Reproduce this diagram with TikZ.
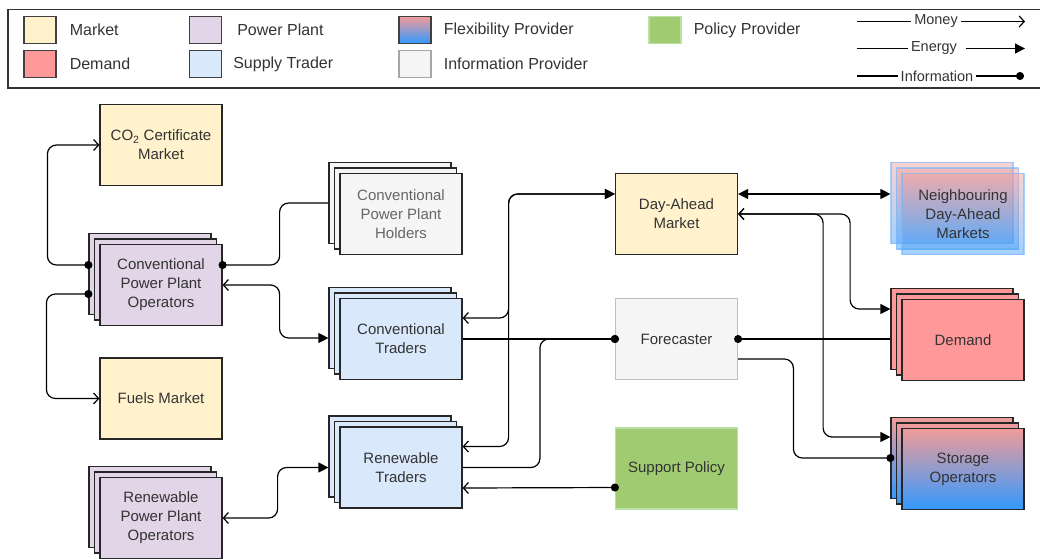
\documentclass[tikz,border=0pt]{standalone}
\usepackage{fontspec}
\setmainfont{Liberation Sans}
\usepackage{tikz}
\usetikzlibrary{positioning,calc,arrows.meta}
\definecolor{mkt}{HTML}{FFF2CC}
\definecolor{dem}{HTML}{FF9999}
\definecolor{pp}{HTML}{E1D5E7}
\definecolor{trd}{HTML}{DAE8FC}
\definecolor{flextop}{HTML}{F19C99}
\definecolor{flexbot}{HTML}{3399FF}
\definecolor{inf}{HTML}{F5F5F5}
\definecolor{pol}{HTML}{A0CB70}
\definecolor{polline}{HTML}{B9E0A5}
\definecolor{txt}{HTML}{333333}
\newcommand{\agentstack}[5]{
	\node[box, #4] (#1_b) at ($(#2,#3)+(-11,-11)$) {};
	\node[box, #4] (#1_m) at ($(#2,#3)+(-5.5,-5.5)$) {};
	\node[box, #4] (#1) at (#2,#3) {#5};
}

\begin{document}
\begin{tikzpicture}[x=1pt,y=-1pt,
		moneytip/.tip={Straight Barb[length=5pt,width=11pt,line width=1.2pt]},
		energytip/.tip={Triangle[length=10pt,width=10pt]},
		infotip/.tip={Circle[length=8pt]}]
		\tikzstyle{box}=[draw=black!85, line width=1.2pt, minimum width=122pt, minimum height=81pt, inner sep=0pt, align=center, text=txt, font=\fontsize{15}{19}\selectfont];
		\tikzstyle{market}=[fill=mkt];
		\tikzstyle{demand}=[fill=dem];
		\tikzstyle{plant}=[fill=pp];
		\tikzstyle{trader}=[fill=trd];
		\tikzstyle{flex}=[top color=flextop, bottom color=flexbot];
		\tikzstyle{infobox}=[fill=inf];
		\tikzstyle{policy}=[fill=pol, draw=polline];
		\tikzstyle{legsw}=[draw=black!75, line width=1.2pt, minimum width=32pt, minimum height=27pt, inner sep=0pt];
		\tikzstyle{legtext}=[inner sep=0pt, text=txt, font=\fontsize{16}{19}\selectfont];
		\tikzstyle{leglabel}=[inner sep=3pt, text=txt, font=\fontsize{14.5}{17}\selectfont];
		\tikzstyle{link}=[line width=1.2pt, rounded corners=9pt];
		
		\useasboundingbox (0,0) rectangle (1040,558);
		
		% legend
		\draw[line width=1.4pt, draw=black!80] (8,9.5) rectangle (1045,88);
		\node[legsw, market] (l_mkt) at (40,30) {};
		\node[legsw, demand] (l_dem) at (40,64) {};
		\node[legsw, plant] (l_pp) at (205.5,30) {};
		\node[legsw, trader] (l_trd) at (205.5,64) {};
		\node[legsw, flex] (l_flex) at (415,30) {};
		\node[legsw, infobox, draw=black!35] (l_inf) at (415,64) {};
		\node[legsw, policy] (l_pol) at (665,30) {};
		\node[legtext, right=13pt of l_mkt] {Market};
		\node[legtext, right=13pt of l_dem] {Demand};
		\node[legtext, right=15pt of l_pp] {Power Plant};
		\node[legtext, right=11pt of l_trd] {Supply Trader};
		\node[legtext, right=12pt of l_flex] {Flexibility Provider};
		\node[legtext, right=12pt of l_inf] {Information Provider};
		\node[legtext, right=12pt of l_pol] {Policy Provider};
		
		\node[leglabel] (l_money) at (936,21.5) {Money};
		\node[leglabel] (l_energy) at (934,48.5) {Energy};
		\node[leglabel] (l_info) at (937,76) {Information};
		\coordinate (lm_a) at (857,21.5);
		\coordinate (lm_b) at (1025,21.5);
		\coordinate (le_a) at (857,48.5);
		\coordinate (le_b) at (1025,48.5);
		\coordinate (li_a) at (857,76);
		\coordinate (li_b) at (1024,76);
		\draw[link] (lm_a) -- (l_money.west);
		\draw[link, -{moneytip}] (l_money.east) -- (lm_b);
		\draw[link] (le_a) -- (l_energy.west);
		\draw[link, -{energytip}] ($(l_energy.east)+(6,0)$) -- (le_b);
		\draw[link] (li_a) -- (l_info.west);
		\draw[link, -{infotip}] (l_info.east) -- (li_b);
		
		% agents
		\node[box, market] (co2) at (161,145) {CO\textsubscript{2} Certificate\\Market};
		\node[box, market] (fuel) at (161,398.5) {Fuels Market};
		\agentstack{cppo}{161}{285}{plant}{Conventional\\Power Plant\\Operators}
		\agentstack{rppo}{161}{518}{plant}{Renewable\\Power Plant\\Operators}
		\agentstack{cpph}{401}{214}{infobox, text=black!60}{Conventional\\Power Plant\\Holders}
		\agentstack{ct}{401}{339}{trader}{Conventional\\Traders}
		\agentstack{rt}{401}{467.5}{trader}{Renewable\\Traders}
		\node[box, market] (dam) at (676.5,214) {Day-Ahead\\Market};
		\node[box, infobox, draw=black!25] (fc) at (676.5,339) {Forecaster};
		\node[box, policy] (sp) at (676.5,468.5) {Support Policy};
		\agentstack{nda}{963}{214}{flex, draw=flexbot!70, fill opacity=0.45, draw opacity=0.6, text opacity=1}{Neighbouring\\Day-Ahead\\Markets}
		\agentstack{dem}{963}{340}{demand}{Demand}
		\agentstack{sto}{963}{469}{flex}{Storage\\Operators}
		
		% flows
		\draw[link, {infotip}-{moneytip}, shorten <=-4pt] ($(cppo_b.west)+(0,-9)$) -- ++(-41,0) |- (co2.west);
		\draw[link, {infotip}-{moneytip}, shorten <=-4pt] ($(cppo_b.west)+(0,20)$) -- ++(-42,0) |- (fuel.west);
		\draw[link, {infotip}-, shorten <=-4pt] ($(cppo.east)+(0,-20)$) -- ++(57,0) |- (cpph_b.west);
		\draw[link, {moneytip}-{energytip}] (cppo.east) -- ++(57,0) |- ($(ct_b.west)+(0,10)$);
		\draw[link, {moneytip}-{energytip}] ($(ct.east)+(0,-21)$) -- ++(46,0) |- ($(dam.west)+(0,-20)$);
		\draw[link, {moneytip}-{energytip}] ($(rt.east)+(0,-21)$) -- ++(46,0) |- ($(dam.west)+(0,-20)$);
		\draw[link, {infotip}-, shorten <=-4pt] (fc.west) -- (ct.east);
		\draw[link, {infotip}-, shorten <=-4pt] (fc.west) -- ++(-75,0) |- (rt.east);
		\draw[link, {infotip}-, shorten <=-4pt] (fc.east) -- (fc.east -| dem_b.west);
		\draw[link, {infotip}-, shorten <=-4pt] (sto_b.west) -- ++(-97,0) |- ($(fc.east)+(0,20)$);
		\draw[link, {energytip}-{energytip}] ($(dam.east)+(0,-20)$) -- ($(nda_b.west)+(0,-9)$);
		\draw[link, {moneytip}-{energytip}] (dam.east) -- ++(112,0) |- ($(dem_b.west)+(0,-20)$);
		\draw[link, {moneytip}-{energytip}] (dam.east) -- ++(85,0) |- ($(sto_b.west)+(0,-21)$);
		\draw[link, {infotip}-{moneytip}, shorten <=-4pt] ($(sp.west)+(0,19)$) -- ($(rt.east)+(0,20.5)$);
		\draw[link, {moneytip}-{energytip}] (rppo.east) -- ++(55,0) |- ($(rt_b.west)+(0,11)$);
	\end{tikzpicture}
\end{document}
